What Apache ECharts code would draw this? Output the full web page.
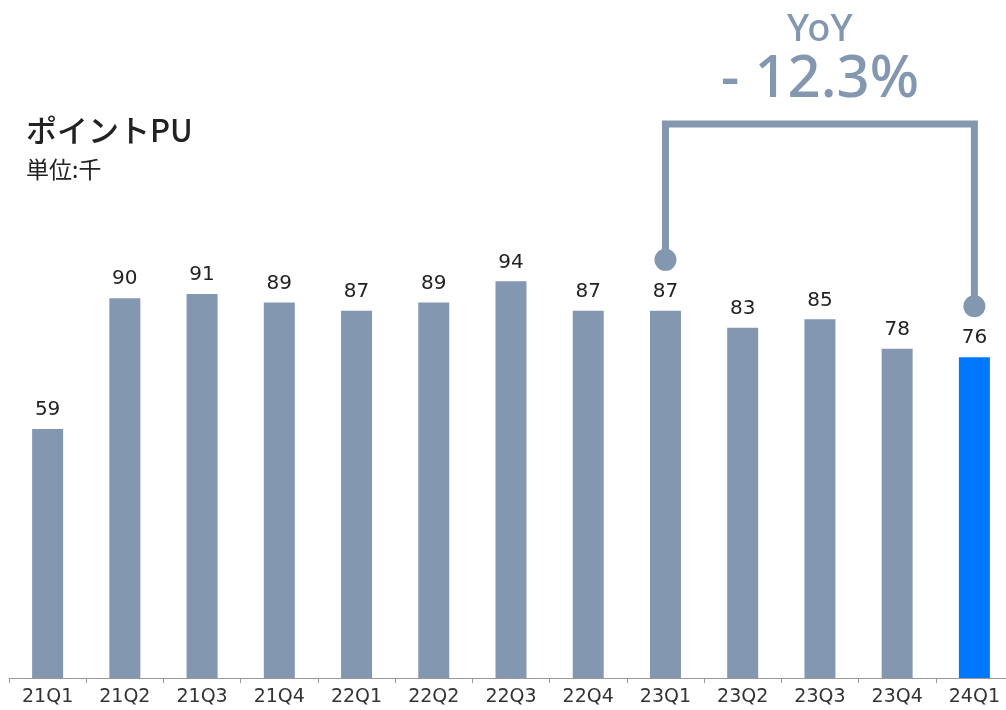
<!DOCTYPE html>
<html>
<head>
<meta charset="utf-8">
<script src="https://cdn.jsdelivr.net/npm/echarts@6/dist/echarts.min.js"></script>
<style>
  html, body { margin: 0; padding: 0; background: #fff; }
  #chart { width: 1006px; height: 710px; }
</style>
</head>
<body>
<div id="chart"></div>
<script>
const categories = ['21Q1', '21Q2', '21Q3', '21Q4', '22Q1', '22Q2', '22Q3', '22Q4', '23Q1', '23Q2', '23Q3', '23Q4', '24Q1'];
const values = [59, 90, 91, 89, 87, 89, 94, 87, 87, 83, 85, 78, 76];
const yoyFrom = 8;   // 23Q1
const yoyTo = 12;    // 24Q1
const yoyText = '- 12.3%';

const GRAY = '#8497B0';
const BLUE = '#0077FF';
const FONT = "'DejaVu Sans', 'Noto Sans CJK JP', sans-serif";
const JP_FONT = "'Noto Sans CJK JP', sans-serif";

const chart = echarts.init(document.getElementById('chart'));

const option = {
  animation: false,
  textStyle: { fontFamily: FONT },
  title: {
    text: 'ポイントPU',
    subtext: '単位:千',
    left: 21,
    top: 110,
    itemGap: 12,
    textStyle: { fontSize: 31, fontWeight: 500, color: '#222', fontFamily: JP_FONT },
    subtextStyle: { fontSize: 23, color: '#222', fontFamily: JP_FONT }
  },
  grid: { left: 9, width: 1004, top: 256, bottom: 32, containLabel: false, outerBoundsMode: 'none' },
  xAxis: {
    type: 'category',
    data: categories,
    axisLine: { lineStyle: { color: '#999', width: 1 } },
    axisTick: { show: true, length: 5, lineStyle: { color: '#999' } },
    axisLabel: { color: '#333', fontSize: 19, margin: 10, fontFamily: FONT }
  },
  yAxis: {
    type: 'value',
    min: 0,
    max: 100,
    show: false,
    splitLine: { show: false }
  },
  series: [{
    type: 'bar',
    barWidth: 31,
    data: values.map((v, i) => ({
      value: v,
      itemStyle: { color: i === values.length - 1 ? BLUE : GRAY }
    })),
    label: {
      show: true,
      position: 'top',
      distance: 9,
      color: '#222',
      fontSize: 20,
      fontFamily: FONT
    }
  }]
};

chart.setOption(option);

// YoY bracket, placed from the axis scale
const p1 = chart.convertToPixel({ seriesIndex: 0 }, [yoyFrom, values[yoyFrom]]);
const p2 = chart.convertToPixel({ seriesIndex: 0 }, [yoyTo, values[yoyTo]]);
const dotGap = 51;
const topY = 124;
const d1 = p1[1] - dotGap;
const d2 = p2[1] - dotGap;
const midX = (p1[0] + p2[0]) / 2;

chart.setOption({
  graphic: [
    {
      type: 'polyline',
      shape: { points: [[p1[0], d1], [p1[0], topY], [p2[0], topY], [p2[0], d2]] },
      style: { stroke: GRAY, lineWidth: 7, fill: null, lineJoin: 'miter' }
    },
    { type: 'circle', shape: { cx: p1[0], cy: d1, r: 11 }, style: { fill: GRAY } },
    { type: 'circle', shape: { cx: p2[0], cy: d2, r: 11 }, style: { fill: GRAY } },
    {
      type: 'text',
      x: midX, y: 30,
      style: { text: 'YoY', fill: GRAY, fontSize: 38, fontWeight: 500, fontFamily: "'Noto Sans', sans-serif", align: 'center', verticalAlign: 'middle' }
    },
    {
      type: 'text',
      x: midX, y: 80,
      style: { text: yoyText, fill: GRAY, fontSize: 58, fontWeight: 500, fontFamily: "'Noto Sans', sans-serif", align: 'center', verticalAlign: 'middle' }
    }
  ]
});
</script>
</body>
</html>
